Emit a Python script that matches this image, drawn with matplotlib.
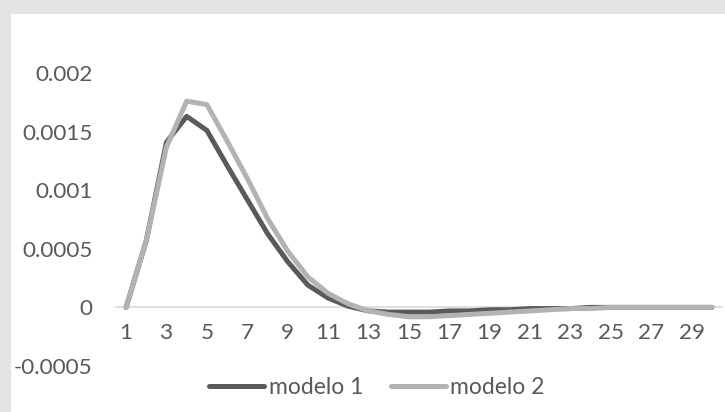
import numpy as np
import matplotlib
matplotlib.use("Agg")
from matplotlib import pyplot as plt
from matplotlib.patches import Rectangle

periods = list(range(1, 31))
modelo_1 = [0, 0.00057, 0.00141, 0.00163, 0.00151, 0.00121, 0.00092, 0.00063, 0.00039, 0.00019,
            0.00008, 0.00001, -0.00003, -0.00004, -0.00004, -0.00004, -0.00003, -0.00003, -0.00002, -0.00002,
            -0.00001, -0.00001, -0.00001, 0, 0, 0, 0, 0, 0, 0]
modelo_2 = [0, 0.00057, 0.00137, 0.00176, 0.00173, 0.00142, 0.00110, 0.00076, 0.00048, 0.00026,
            0.00012, 0.00003, -0.00003, -0.00006, -0.00008, -0.00008, -0.00007, -0.00006, -0.00005, -0.00004,
            -0.00003, -0.00002, -0.00001, -0.00001, 0, 0, 0, 0, 0, 0]
y_ticks = [-0.0005, 0, 0.0005, 0.001, 0.0015, 0.002]
y_labels = ["-0.0005", "0", "0.0005", "0.001", "0.0015", "0.002"]
x_ticks = list(range(1, 30, 2))

plt.rcParams['font.family'] = ['Lato', 'DejaVu Sans']
txt = '#595959'

W, H = 725, 412
fig = plt.figure(figsize=(W / 100, H / 100), dpi=100)
fig.patch.set_facecolor('#e3e3e3')
fig.patches.append(Rectangle((11 / W, 0), 1, 1 - 14 / H, transform=fig.transFigure,
                             facecolor='white', edgecolor='none', zorder=-5))

ax = fig.add_axes([116 / W, (H - 366) / H, (722 - 116) / W, (366 - 73) / H])
ax.set_facecolor('none')
ax.plot(periods, modelo_1, color='#5a5a5a', lw=3.6, label='modelo 1', solid_capstyle='round')
ax.plot(periods, modelo_2, color='#b3b3b3', lw=3.6, label='modelo 2', solid_capstyle='round')

ax.set_xlim(0.5, 30.5)
ax.set_ylim(-0.0005, 0.002)
ax.set_yticks(y_ticks)
ax.set_yticklabels(y_labels)
ax.set_xticks(x_ticks)
ax.set_xticklabels([str(v) for v in x_ticks])

for s in ['top', 'right', 'left']:
    ax.spines[s].set_visible(False)
ax.spines['bottom'].set_position(('data', 0))
ax.spines['bottom'].set_color('#d9d9d9')
ax.spines['bottom'].set_linewidth(1.2)
ax.spines['bottom'].set_zorder(0)
ax.tick_params(axis='both', length=0, labelsize=16.2, labelcolor=txt)
ax.tick_params(axis='x', pad=11.5)
ax.tick_params(axis='y', pad=17)

leg = fig.legend(loc='center', bbox_to_anchor=(377 / W, (H - 388) / H), ncol=2, frameon=False,
                 fontsize=16.5, handlelength=2.4, handletextpad=0.2, columnspacing=1.2)
for t in leg.get_texts():
    t.set_color(txt)

fig.savefig('out.png', dpi=100, facecolor=fig.get_facecolor())
